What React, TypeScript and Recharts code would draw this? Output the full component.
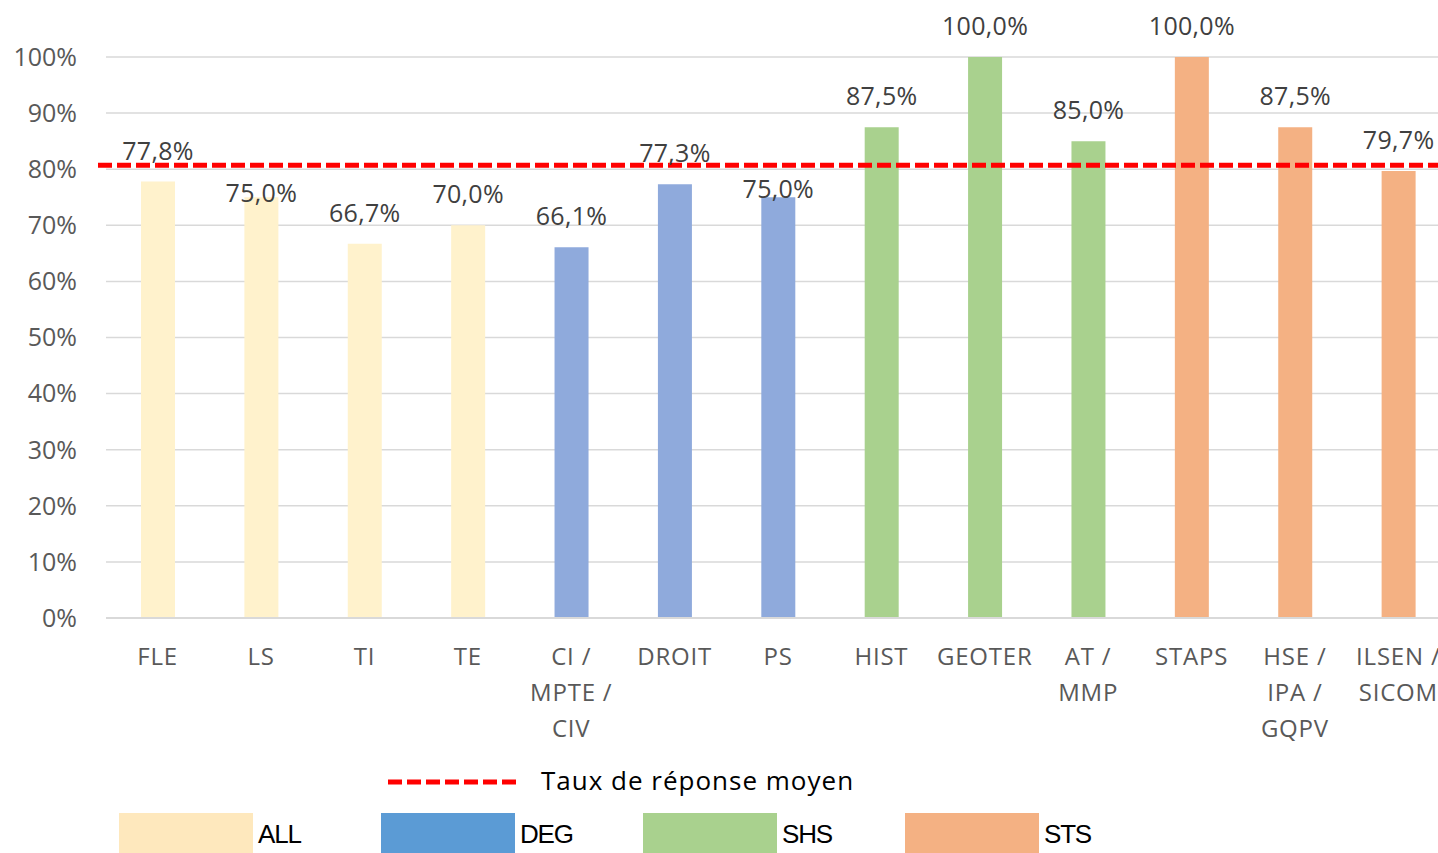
import React from 'react';
import { BarChart, Bar, XAxis, YAxis, CartesianGrid, Cell, LabelList, ReferenceLine, Legend } from 'recharts';

const categories = ['FLE', 'LS', 'TI', 'TE', 'CI / MPTE / CIV', 'DROIT', 'PS', 'HIST', 'GEOTER', 'AT / MMP', 'STAPS', 'HSE / IPA / GQPV', 'ILSEN / SICOM'];
const groups = ['ALL', 'ALL', 'ALL', 'ALL', 'DEG', 'DEG', 'DEG', 'SHS', 'SHS', 'SHS', 'STS', 'STS', 'STS'];
const rates = [0.778, 0.75, 0.667, 0.7, 0.661, 0.773, 0.75, 0.875, 1.0, 0.85, 1.0, 0.875, 0.797];
const averageRate = 0.807;
const averageLabel = 'Taux de réponse moyen';
const groupNames = ['ALL', 'DEG', 'SHS', 'STS'];
const yTicks = [0, 0.1, 0.2, 0.3, 0.4, 0.5, 0.6, 0.7, 0.8, 0.9, 1.0];

const barColors: Record<string, string> = { ALL: '#FFF2CC', DEG: '#8FAADC', SHS: '#A9D18E', STS: '#F4B183' };
const legendColors: Record<string, string> = { ALL: '#FEE8BD', DEG: '#5B9BD5', SHS: '#A9D18E', STS: '#F4B183' };
const labelNudge: Record<string, number> = { LS: 27, PS: 23 };

const data = categories.map((c, i) => ({ name: c, group: groups[i], rate: rates[i] }));

const FONT = '"Open Sans", sans-serif';

const fmtPct = (v: number) => (v * 100).toFixed(1).replace('.', ',') + '%';

const XTick = (props: any) => {
  const { x, y, payload } = props;
  const parts = String(payload.value).split(' / ');
  const lines = parts.map((p, i) => (i < parts.length - 1 ? p + ' /' : p));
  return (
    <text x={x} y={y} textAnchor="middle" fill="#595959" fontFamily={FONT} fontSize={24} letterSpacing={0.8}>
      {lines.map((l, i) => (
        <tspan key={i} x={x} y={y + 47 + i * 36}>{l}</tspan>
      ))}
    </text>
  );
};

const DataLabel = (props: any) => {
  const { x, y, width, value, index } = props;
  const nudge = labelNudge[categories[index]] || 0;
  return (
    <text x={x + width / 2} y={y - 22 + nudge} textAnchor="middle" fill="#404040" fontFamily={FONT} fontSize={25} letterSpacing={0.3}>
      {fmtPct(value)}
    </text>
  );
};

const LegendContent = () => (
  <div style={{ position: 'relative', width: 1438, height: 98 }}>
    <svg style={{ position: 'absolute', left: 388, top: 23 }} width={134} height={8}>
      <line x1={0} y1={4} x2={132} y2={4} stroke="#FF0000" strokeWidth={5} strokeDasharray="14 5" />
    </svg>
    <div style={{ position: 'absolute', left: 541, top: 8, fontFamily: FONT, fontSize: 26, color: '#000', lineHeight: '34px', whiteSpace: 'nowrap', letterSpacing: 1 }}>
      {averageLabel}
    </div>
    {groupNames.map((g, i) => (
      <React.Fragment key={g}>
        <div style={{ position: 'absolute', left: 119 + i * 262, top: 58, width: 134, height: 42, background: legendColors[g] }} />
        <div style={{ position: 'absolute', left: 258 + i * 262, top: 62, fontFamily: '"Liberation Sans", Arial, sans-serif', fontSize: 26, letterSpacing: -1.2, color: '#000', lineHeight: '34px' }}>
          {g}
        </div>
      </React.Fragment>
    ))}
  </div>
);

export default function App() {
  return (
    <div style={{ position: 'absolute', left: 0, top: 0, width: 1438, height: 853, overflow: 'hidden', background: '#fff' }}>
      <BarChart width={1460} height={853} data={data} margin={{ top: 57, right: 10, bottom: 0, left: 0 }} barCategoryGap={0}>
        <CartesianGrid vertical={false} stroke="#D9D9D9" strokeWidth={1.5} />
        <XAxis
          dataKey="name"
          height={235}
          interval={0}
          tickLine={false}
          tickSize={0}
          tickMargin={0}
          axisLine={{ stroke: '#D9D9D9', strokeWidth: 2 }}
          tick={<XTick />}
        />
        <YAxis
          width={106}
          domain={[0, 1]}
          ticks={yTicks}
          axisLine={false}
          tickLine={false}
          tickSize={0}
          tickMargin={29}
          tickFormatter={(v: number) => Math.round(v * 100) + '%'}
          tick={{ fill: '#595959', fontFamily: FONT, fontSize: 25 }}
        />
        <Bar dataKey="rate" barSize={34} isAnimationActive={false}>
          {data.map((d, i) => (
            <Cell key={i} fill={barColors[d.group]} />
          ))}
          <LabelList dataKey="rate" content={<DataLabel />} />
        </Bar>
        <ReferenceLine
          y={averageRate}
          shape={(p: any) => (
            <line x1={p.x1 - 8} y1={p.y1} x2={p.x2} y2={p.y2} stroke="#FF0000" strokeWidth={5} strokeDasharray="14 5" />
          )}
        />
        <Legend
          layout="horizontal"
          verticalAlign="middle"
          align="center"
          content={<LegendContent />}
          wrapperStyle={{ position: 'absolute', left: 0, top: 755, width: 1438, height: 98 }}
        />
      </BarChart>
    </div>
  );
}
